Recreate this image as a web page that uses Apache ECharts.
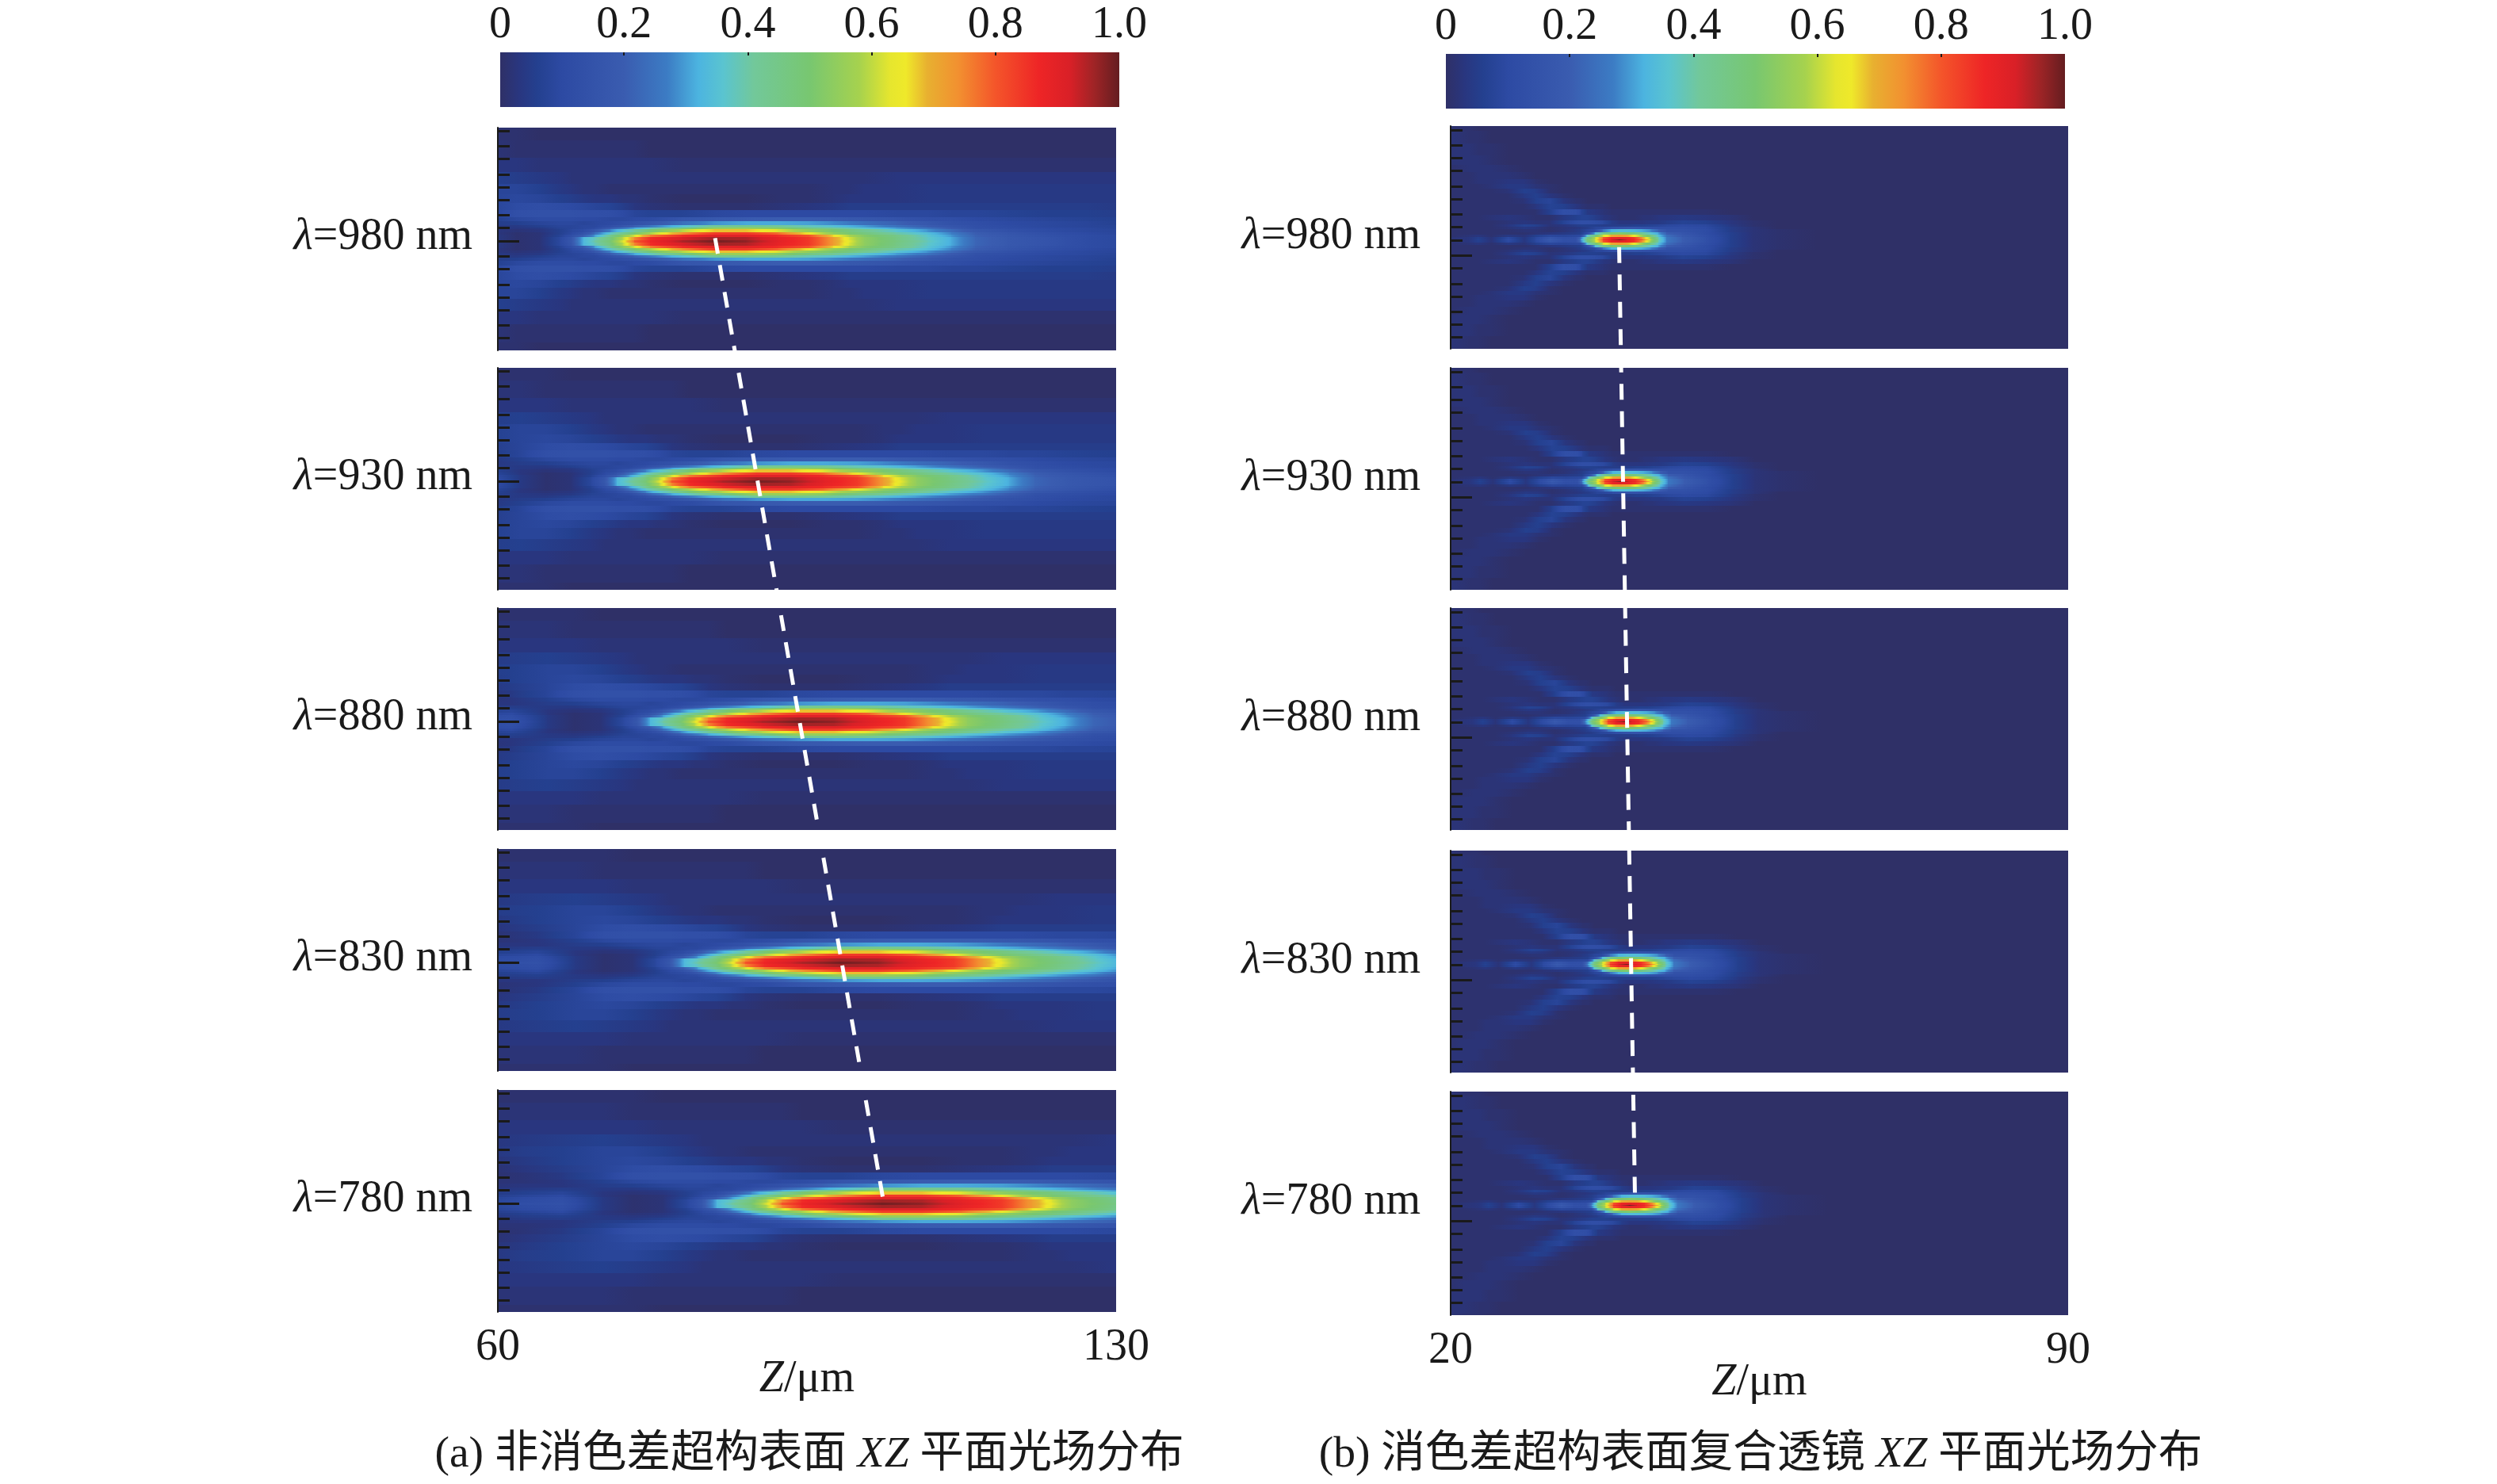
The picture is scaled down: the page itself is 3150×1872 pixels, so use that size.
<!DOCTYPE html>
<html><head><meta charset="utf-8">
<style>html,body{margin:0;background:#fff}#c{width:3150px;height:1872px}</style>
<script src="https://cdn.jsdelivr.net/npm/echarts@6/dist/echarts.min.js"></script>
</head><body><div id="c"></div>
<script>
const wavelengths = [980, 930, 880, 830, 780];
const colorTicks = [0, 0.2, 0.4, 0.6, 0.8, 1.0];
const colorStops = [[0,'#2f3067'],[0.03,'#29367f'],[0.06,'#24408f'],[0.1,'#2d4aa3'],[0.2,'#3a5cb0'],[0.27,'#3c7cc4'],[0.32,'#4cb4e0'],[0.36,'#5ac4d0'],[0.41,'#72c89a'],[0.5,'#78c770'],[0.58,'#a6d24e'],[0.63,'#e6e62e'],[0.655,'#efe92a'],[0.69,'#e8b030'],[0.74,'#f29030'],[0.8,'#f4552a'],[0.87,'#ee2526'],[0.92,'#d92027'],[0.96,'#9e2426'],[1,'#641d20']];

// focus position of each wavelength, micrometres
const leftFocus = [84.5, 89.3, 94.0, 98.8, 103.5];
const leftLength = [1, 1.065, 1.13, 1.195, 1.26];
const rightFocus = [39.1, 39.3, 39.6, 39.9, 40.3];
const rightLength = [1, 1, 1, 1, 1];

// field: offsets from the focus, and percent intensity by |X| row
const leftZ = [-35.9,-32.3,-28.7,-25.1,-22.4,-19.7,-17.5,-16.1,-14.8,-13.5,-11.7,-10.3,-9.0,-7.2,-3.6,0,3.6,7.2,10.8,13.5,15.3,17.0,20.6,24.2,26.9,29.6,33.2,37.7,42.2,46.6];
const leftX = [0,0.36,0.72,0.99,1.26,1.53,1.79,2.15,2.51,3.2,3.95,4.85,5.9,7.2,8.6,10.4,12.6];
const leftField = [
[9,12,14,4,1,2,9,18,33,40,50,63,80,87,95,99,97,90,84,72,63,54,47,38,31,22,18,15,11,9],
[8,11,13,4,1,2,9,17,33,38,48,60,75,86,92,96,95,89,84,72,62,54,46,37,31,22,18,15,11,9],
[7,10,12,4,1,2,7,13,20,30,44,54,62,76,86,90,90,86,80,66,58,52,45,36,29,21,17,14,11,9],
[5,8,10,3,1,2,6,10,15,24,37,44,50,58,74,84,84,78,64,54,50,47,40,34,27,20,16,13,10,8],
[4,6,8,3,2,3,6,9,11,17,28,36,41,49,59,68,68,62,54,50,47,43,36,29,23,17,14,11,9,8],
[3,5,6,4,3,4,7,8,9,11,20,26,31,38,47,55,56,53,46,42,39,36,30,25,19,14,12,10,9,7],
[3,4,5,4,4,6,8,8,9,9,13,17,21,26,35,42,44,42,38,35,32,30,25,20,16,13,11,9,8,7],
[2,3,3,5,6,8,9,9,8,9,10,12,14,17,24,29,31,31,30,28,26,24,21,17,14,12,10,9,8,6],
[2,2,3,6,9,11,11,11,10,10,9,9,10,11,16,18,19,20,20,19,18,17,15,13,12,10,9,8,7,6],
[1,2,4,8,13,14,14,14,13,13,12,10,8,7,7,9,10,10,10,10,10,10,9,9,8,8,7,6,6,5],
[1,3,5,8,11,12,11,10,9,8,7,5,3,2,1,1,1,2,3,4,5,5,5,5,5,5,5,5,5,4],
[2,4,6,8,9,8,6,5,4,3,3,2,2,1,0,0,0,1,1,2,3,3,3,4,4,4,4,4,4,4],
[3,5,6,8,8,6,4,3,2,2,1,1,1,1,1,1,1,1,1,2,2,3,3,4,4,4,4,4,4,4],
[3,4,5,6,5,4,3,2,2,2,2,2,2,2,2,2,2,2,2,2,2,2,3,3,3,3,3,3,3,3],
[3,3,3,3,3,2,2,2,2,2,2,2,2,2,1,1,1,1,1,1,1,1,1,1,1,1,1,1,1,1],
[2,2,2,2,1,1,1,1,1,1,1,1,1,0,0,0,0,0,0,0,0,0,0,0,0,0,0,0,0,0],
[1,1,1,1,1,0,0,0,0,0,0,0,0,0,0,0,0,0,0,0,0,0,0,0,0,0,0,0,0,0]
];
const rightZ = [-20.6,-18.8,-17.0,-16.0,-14.5,-12.6,-10.8,-9.4,-7.8,-6.3,-4.9,-4.3,-3.6,-2.7,-1.8,-0.9,0,0.9,1.8,2.7,3.6,4.5,5.4,7.2,9.9,12.6,15.2,17.9,22.4,31.4,44.9,53.8];
const rightX = [0,0.27,0.54,0.81,1.08,1.35,1.6,2.06,2.5,3.2,3.8,4.4,5.0,5.6,6.1,6.6,7.3,8.1,9.0,10.3,11.7,13.0];
const rightField = [
[1,2,3,7,2,12,3,10,20,14,14,30,50,62,85,92,100,92,86,80,60,40,26,20,13,6,2,1],
[1,2,3,6,2,10,3,9,17,12,13,26,45,60,80,88,90,88,84,72,55,38,26,20,13,6,2,1],
[1,1,2,3,1,4,2,6,9,8,9,10,36,48,62,70,72,70,64,54,46,34,24,18,12,6,2,1],
[1,1,1,1,1,1,1,2,3,4,5,6,12,34,44,50,52,50,46,42,36,30,20,16,11,6,2,1],
[1,1,1,1,1,1,2,2,1,2,4,5,8,10,26,32,34,34,33,31,28,20,14,14,11,5,2,1],
[1,1,1,1,1,2,4,3,1,2,3,4,5,8,9,12,14,15,15,14,13,12,12,12,10,5,2],
[1,1,1,1,1,3,7,6,2,3,5,6,6,6,5,5,5,5,6,6,7,8,9,10,9,4,1],
[1,1,1,1,1,2,3,2,2,7,11,12,12,11,9,5,3,3,3,3,4,4,5,7,6,3,1],
[1,1,1,1,2,3,2,1,1,4,6,7,7,5,3,2,1,1,1,2,2,3,3,4,3,2],
[1,1,1,1,1,1,1,1,6,13,12,8,4,3,2,1,1,1,1,1,1,1,1,1,1],
[1,1,1,1,1,1,1,3,7,6,3,2,1,1,1],
[1,1,1,1,1,1,2,6,8,3,1,1],
[1,1,1,1,1,1,4,6,3,1],
[1,1,1,1,1,2,6,5,1],
[1,1,1,1,2,4,4,2,1],
[1,1,1,2,2,3,3,1],
[1,1,1,2,2,2,1],
[1,1,2,2,2,1],
[1,2,2,2,1],
[2,2,2,1,1],
[2,2,1,1],
[2,1,1]
];
// tick marks on the left edge of the panels
const leftMinorTicks = [12.47,10.76,9.3,7.5,6.07,4.64,2.9,1.46,-1.7,-3.17,-4.96,-6.4,-7.83,-9.54,-11.0];
const leftMajorTick = [0];
const rightMinorTicks = [12.38,10.67,9.24,7.74,6.01,4.57,2.81,1.4,-0.09,-3.23,-5.02,-6.46,-8.16,-9.6,-11.06];
const rightMajorTick = [-1.79];
// white dashed focus trails: [Z, depth]
const leftTrail = [[84.6,12.5],[103.7,121.7]];
const rightTrail = [[39.1,13.7],[40.9,121.4]];
const captionA = '(a) 非消色差超构表面 {i|XZ} 平面光场分布';
const captionB = '(b) 消色差超构表面复合透镜 {i|XZ} 平面光场分布';

const FONT = "'Liberation Serif','Noto Sans CJK SC',serif";
const FS = 56, INK = '#1a1a1a';
const parsed = colorStops.map(s => [s[0], parseInt(s[1].slice(1,3),16), parseInt(s[1].slice(3,5),16), parseInt(s[1].slice(5,7),16)]);
function colorAt(v){
  v = Math.max(0, Math.min(1, v));
  for (let k = 1; k < parsed.length; k++) {
    if (v <= parsed[k][0]) {
      const a = parsed[k-1], b = parsed[k], t = (v-a[0])/(b[0]-a[0]);
      return `rgb(${Math.round(a[1]+(b[1]-a[1])*t)},${Math.round(a[2]+(b[2]-a[2])*t)},${Math.round(a[3]+(b[3]-a[3])*t)})`;
    }
  }
  return colorStops[colorStops.length-1][1];
}
function cells(zs, xs, field, focus, length){
  const out = [];
  const edge = i => i === 0 ? 0 : (i >= xs.length ? xs[xs.length-1]+2 : (xs[i-1]+xs[i])/2);
  xs.forEach((x, r) => {
    const a = r === 0 ? (xs[0]+xs[1])/2 : edge(r), b = r === 0 ? -a : edge(r+1);
    const row = field[r];
    for (let c = 0; c < zs.length-1; c++) {
      const v0 = row[c] ?? 0, v1 = row[c+1] ?? 0;
      const z0 = focus+zs[c]*length, z1 = focus+zs[c+1]*length;
      if (r === 0) out.push([z0,z1,b,a,v0,v1]);
      else { out.push([z0,z1,a,edge(r+1),v0,v1]); out.push([z0,z1,-edge(r+1),-a,v0,v1]); }
    }
  });
  return out;
}
function renderCell(params, api){
  const z0=api.value(0), z1=api.value(1), y0=api.value(2), y1=api.value(3), v0=api.value(4), v1=api.value(5);
  const p0=api.coord([z0,y1]), p1=api.coord([z1,y0]);
  const n = Math.abs(v1-v0) > 3 ? 6 : 1, stops=[];
  for (let k=0;k<=n;k++) stops.push({offset:k/n,color:colorAt((v0+(v1-v0)*k/n)/100)});
  return {type:'rect',
    shape:{x:Math.floor(p0[0]),y:Math.floor(p0[1]),width:Math.ceil(p1[0]-p0[0])+1,height:Math.ceil(p1[1]-p0[1])+1},
    style:{fill:new echarts.graphic.LinearGradient(0,0,1,0,stops)}};
}
const grid=[],xAxis=[],yAxis=[],series=[];
function panel(box, zMin, zMax, zs, xs, field, focus, length, minor, major, wl, bottom, labelY, labelMargin){
  const g=grid.length;
  grid.push({left:box[0],top:box[1],width:box[2],height:box[3]});
  const yMax=143*0.0897, yMin=-(box[3]-143)*0.0897;
  xAxis.push({type:'value',gridIndex:g,min:zMin,max:zMax,splitLine:{show:false},axisLine:{show:false,onZero:false},axisTick:{show:false},
    axisLabel:bottom?{show:true,customValues:[zMin,zMax],fontFamily:FONT,fontSize:FS,color:INK,margin:17,hideOverlap:false}:{show:false},
    name:bottom?'{i|Z}/μm':'',nameLocation:'middle',nameGap:bottom?57:0,nameMoveOverlap:false,
    nameTextStyle:{fontFamily:FONT,fontSize:FS,color:INK,rich:{i:{fontFamily:FONT,fontSize:FS,fontStyle:'italic',color:INK}}}});
  const ya=yAxis.length;
  yAxis.push({type:'value',gridIndex:g,min:yMin,max:yMax,splitLine:{show:false},z:5,
    axisLine:{show:true,onZero:false,lineStyle:{color:INK,width:2}},
    axisTick:{show:true,inside:true,length:15,customValues:minor,lineStyle:{color:INK,width:3}},axisLabel:{show:false}});
  yAxis.push({type:'value',gridIndex:g,position:'left',min:yMin,max:yMax,splitLine:{show:false},z:5,axisLine:{show:false,onZero:false},
    axisTick:{show:true,inside:true,length:27,customValues:major,lineStyle:{color:INK,width:3}},
    axisLabel:{show:true,customValues:[labelY],margin:labelMargin,fontFamily:FONT,fontSize:FS,color:INK,
      formatter:()=>`{i|λ}=${wl} nm`,rich:{i:{fontFamily:FONT,fontSize:FS,fontStyle:'italic',color:INK}}}});
  series.push({type:'custom',xAxisIndex:g,yAxisIndex:ya,clip:true,silent:true,progressive:0,animation:false,
    dimensions:['z0','z1','y0','y1','v0','v1'],encode:{x:[0,1],y:[2,3]},renderItem:renderCell,
    data:cells(zs,xs,field,focus,length),z:2});
  series.push({type:'line',xAxisIndex:g,yAxisIndex:ya+1,data:[],silent:true});
}
function colorbar(box){
  const g=grid.length;
  grid.push({left:box[0],top:box[1],width:box[2],height:box[3]});
  xAxis.push({type:'value',gridIndex:g,position:'top',min:0,max:1,interval:0.2,splitLine:{show:false},axisLine:{show:false,onZero:false},z:5,
    axisTick:{show:true,inside:true,length:4,lineStyle:{color:INK,width:2},customValues:colorTicks.slice(1,5)},
    axisLabel:{show:true,margin:6,fontFamily:FONT,fontSize:FS,color:INK,hideOverlap:false,customValues:colorTicks,formatter:v=>v===0?'0':v.toFixed(1)}});
  yAxis.push({type:'value',gridIndex:g,min:0,max:1,show:false});
  series.push({type:'custom',xAxisIndex:g,yAxisIndex:yAxis.length-1,silent:true,animation:false,
    encode:{x:[0,1],y:[2,3]},data:[[0,1,0,1]],z:2,
    renderItem:(p,api)=>{const a=api.coord([0,1]),b=api.coord([1,0]);
      return {type:'rect',shape:{x:a[0],y:a[1],width:b[0]-a[0],height:b[1]-a[1]},
        style:{fill:new echarts.graphic.LinearGradient(0,0,1,0,colorStops.map(s=>({offset:s[0],color:s[1]})))}};}});
}
function trail(box, zMin, zMax, pts){
  const g=grid.length;
  grid.push({left:box[0],top:box[1],width:box[2],height:box[3]});
  xAxis.push({type:'value',gridIndex:g,min:zMin,max:zMax,show:false});
  yAxis.push({type:'value',gridIndex:g,min:0,max:box[3]*0.0897,inverse:true,show:false});
  series.push({type:'line',xAxisIndex:g,yAxisIndex:yAxis.length-1,data:pts,symbol:'none',silent:true,animation:false,z:10,
    lineStyle:{color:'#fff',width:5,type:[20,14.5],cap:'butt'}});
}
const leftTops=[161,464,767,1071,1375], leftH=[281,280,280,280,280];
const rightTops=[159,464,767,1073,1377], rightH=[281,280,280,280,282];
colorbar([631,66,781,69]);
colorbar([1824,68,781,69]);
wavelengths.forEach((wl,i)=>{
  panel([628,leftTops[i],780,leftH[i]],60,130,leftZ,leftX,leftField,leftFocus[i],leftLength[i],leftMinorTicks,leftMajorTick,wl,i===4,0.39,32);
  panel([1830,rightTops[i],779,rightH[i]],20,90,rightZ,rightX,rightField,rightFocus[i],rightLength[i],rightMinorTicks,rightMajorTick,wl,i===4,0.3,38);
});
trail([628,161,780,1494],60,130,leftTrail);
trail([1830,159,779,1500],20,90,rightTrail);

const chart=echarts.init(document.getElementById('c'),null,{renderer:'canvas',width:3150,height:1872});
chart.setOption({backgroundColor:'#fff',animation:false,grid,xAxis,yAxis,series,
  title:[[1016,captionA],[2216,captionB]].map(t=>({text:t[1],left:t[0],top:1803,textAlign:'center',
    textStyle:{fontFamily:FONT,fontSize:55.5,fontWeight:'normal',color:INK,rich:{i:{fontFamily:FONT,fontSize:55.5,fontStyle:'italic',color:INK}}}}))});
</script></body></html>
